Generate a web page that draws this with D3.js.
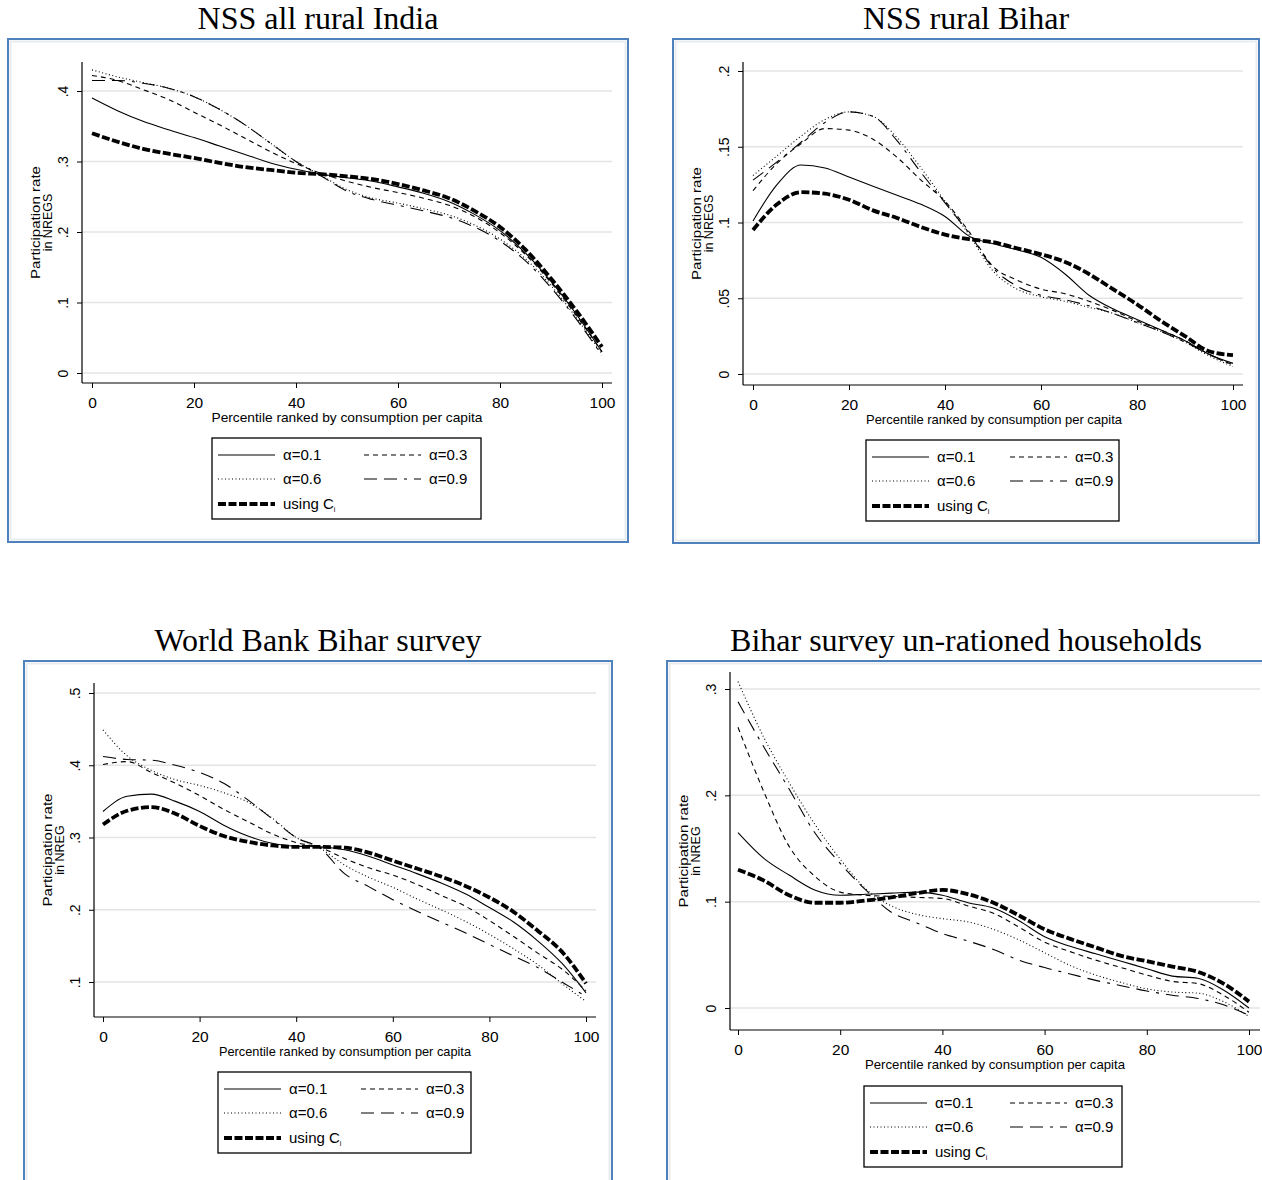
<!DOCTYPE html>
<html>
<head>
<meta charset="utf-8">
<script src="https://cdn.jsdelivr.net/npm/d3@7"></script>
<style>
  body { margin: 0; background: #fff; }
  svg { display: block; }
  text { font-family: "Liberation Sans", Arial, sans-serif; fill: #000; }
  .ttl { font-family: "Liberation Serif", "Times New Roman", serif; }
</style>
</head>
<body>
<svg id="chart" width="1262" height="1180"></svg>
<script>
// percentile grid shared by every panel
const pct = [0, 5, 10, 15, 20, 25, 30, 35, 40, 45, 50, 55, 60, 65, 70, 75, 80, 85, 90, 95, 100];
const xTicks = [0, 20, 40, 60, 80, 100];

// NSS all rural India
const india_a01 = [0.39, 0.372, 0.357, 0.345, 0.334, 0.322, 0.31, 0.298, 0.289, 0.282, 0.277, 0.272, 0.264, 0.255, 0.243, 0.225, 0.202, 0.17, 0.13, 0.083, 0.03];
const india_a03 = [0.422, 0.415, 0.402, 0.388, 0.37, 0.352, 0.333, 0.314, 0.297, 0.283, 0.272, 0.263, 0.256, 0.248, 0.238, 0.222, 0.199, 0.168, 0.128, 0.081, 0.03];
const india_a06 = [0.43, 0.42, 0.412, 0.404, 0.392, 0.374, 0.352, 0.326, 0.3, 0.28, 0.26, 0.248, 0.241, 0.233, 0.224, 0.21, 0.19, 0.162, 0.124, 0.078, 0.027];
const india_a09 = [0.415, 0.415, 0.411, 0.404, 0.392, 0.374, 0.352, 0.326, 0.3, 0.279, 0.258, 0.246, 0.238, 0.23, 0.221, 0.207, 0.187, 0.159, 0.121, 0.076, 0.025];
const india_C   = [0.34, 0.328, 0.318, 0.311, 0.305, 0.298, 0.292, 0.288, 0.284, 0.282, 0.279, 0.275, 0.268, 0.259, 0.248, 0.23, 0.207, 0.175, 0.134, 0.088, 0.037];
const india_yTicks = [0, 0.1, 0.2, 0.3, 0.4];

// NSS rural Bihar
const bihar_a01 = [0.101, 0.125, 0.138, 0.136, 0.13, 0.124, 0.118, 0.112, 0.104, 0.091, 0.086, 0.082, 0.077, 0.066, 0.052, 0.043, 0.036, 0.029, 0.022, 0.013, 0.007];
const bihar_a03 = [0.121, 0.139, 0.152, 0.162, 0.161, 0.155, 0.143, 0.128, 0.114, 0.094, 0.071, 0.062, 0.056, 0.053, 0.048, 0.042, 0.035, 0.029, 0.022, 0.013, 0.006];
const bihar_a06 = [0.131, 0.144, 0.157, 0.168, 0.173, 0.17, 0.156, 0.136, 0.114, 0.092, 0.068, 0.056, 0.051, 0.048, 0.044, 0.04, 0.034, 0.028, 0.021, 0.012, 0.005];
const bihar_a09 = [0.128, 0.14, 0.153, 0.166, 0.173, 0.17, 0.154, 0.133, 0.113, 0.093, 0.07, 0.058, 0.052, 0.049, 0.045, 0.04, 0.034, 0.028, 0.021, 0.013, 0.006];
const bihar_C   = [0.095, 0.112, 0.12, 0.119, 0.115, 0.108, 0.103, 0.097, 0.092, 0.089, 0.087, 0.083, 0.079, 0.074, 0.066, 0.056, 0.046, 0.035, 0.025, 0.015, 0.0125];
const bihar_yTicks = [0, 0.05, 0.1, 0.15, 0.2];

// World Bank Bihar survey
const wb_a01 = [0.336, 0.357, 0.36, 0.35, 0.336, 0.317, 0.302, 0.292, 0.288, 0.287, 0.283, 0.274, 0.262, 0.25, 0.237, 0.222, 0.203, 0.183, 0.157, 0.126, 0.085];
const wb_a03 = [0.401, 0.405, 0.39, 0.375, 0.358, 0.339, 0.322, 0.305, 0.293, 0.286, 0.271, 0.258, 0.248, 0.235, 0.22, 0.205, 0.185, 0.163, 0.14, 0.118, 0.088];
const wb_a06 = [0.449, 0.413, 0.393, 0.38, 0.372, 0.362, 0.349, 0.327, 0.3, 0.285, 0.262, 0.245, 0.231, 0.215, 0.2, 0.184, 0.166, 0.146, 0.124, 0.098, 0.073];
const wb_a09 = [0.412, 0.408, 0.407, 0.4, 0.39, 0.375, 0.352, 0.326, 0.3, 0.285, 0.25, 0.232, 0.214, 0.198, 0.183, 0.168, 0.152, 0.136, 0.12, 0.1, 0.08];
const wb_C   = [0.318, 0.337, 0.342, 0.333, 0.316, 0.302, 0.294, 0.289, 0.287, 0.287, 0.286, 0.279, 0.268, 0.257, 0.246, 0.233, 0.217, 0.197, 0.171, 0.142, 0.098];
const wb_yTicks = [0.1, 0.2, 0.3, 0.4, 0.5];

// Bihar survey un-rationed households
const unr_a01 = [0.165, 0.141, 0.125, 0.111, 0.106, 0.107, 0.108, 0.109, 0.106, 0.099, 0.094, 0.082, 0.067, 0.058, 0.051, 0.044, 0.037, 0.03, 0.028, 0.017, 0.0];
const unr_a03 = [0.264, 0.204, 0.152, 0.124, 0.109, 0.106, 0.105, 0.104, 0.103, 0.096, 0.089, 0.076, 0.062, 0.053, 0.045, 0.038, 0.031, 0.025, 0.023, 0.012, -0.004];
const unr_a06 = [0.307, 0.255, 0.212, 0.173, 0.14, 0.112, 0.096, 0.088, 0.084, 0.081, 0.074, 0.064, 0.052, 0.04, 0.031, 0.024, 0.018, 0.015, 0.014, 0.006, -0.008];
const unr_a09 = [0.288, 0.246, 0.206, 0.165, 0.136, 0.111, 0.09, 0.08, 0.07, 0.063, 0.055, 0.045, 0.038, 0.032, 0.026, 0.021, 0.016, 0.012, 0.009, 0.003, -0.007];
const unr_C   = [0.13, 0.12, 0.106, 0.099, 0.099, 0.101, 0.104, 0.108, 0.111, 0.107, 0.099, 0.087, 0.074, 0.065, 0.057, 0.049, 0.044, 0.039, 0.034, 0.023, 0.006];
const unr_yTicks = [0, 0.1, 0.2, 0.3];

const seriesKeys = ["a01", "a03", "a06", "a09", "C"];
const lineStyle = {
  a01: { w: 1.1, dash: null },
  a03: { w: 1.1, dash: "5,4" },
  a06: { w: 1.1, dash: "1,2.5" },
  a09: { w: 1.1, dash: "13,7,13,7,3,7" },
  C:   { w: 3.8, dash: "8,2.5" }
};

const panels = [
  { title: "NSS all rural India", titleX: 318, titleY: 29,
    frame: [8, 39, 620, 503], series: [india_a01, india_a03, india_a06, india_a09, india_C],
    yTicks: india_yTicks, yDomain: [0, 0.4], yRange: [373, 91], xRange: [92, 602],
    axisX: 82, axisY: 383, axisTop: 62, gridEnd: 612, yLab: "in NREGS",
    xTitle: { cx: 347, len: 271 },
    legend: { x: 212, y: 438, w: 269, col2: 152 } },
  { title: "NSS rural Bihar", titleX: 966, titleY: 29,
    frame: [673, 39, 586, 504], series: [bihar_a01, bihar_a03, bihar_a06, bihar_a09, bihar_C],
    yTicks: bihar_yTicks, yDomain: [0, 0.2], yRange: [374, 71], xRange: [753, 1233],
    axisX: 743, axisY: 385, axisTop: 62, gridEnd: 1243, yLab: "in NREGS",
    xTitle: { cx: 994, len: 256 },
    legend: { x: 866, y: 440, w: 253, col2: 144 } },
  { title: "World Bank Bihar survey", titleX: 318, titleY: 651,
    frame: [24, 661, 588, 540], series: [wb_a01, wb_a03, wb_a06, wb_a09, wb_C],
    yTicks: wb_yTicks, yDomain: [0.1, 0.5], yRange: [982, 693], xRange: [103, 586],
    axisX: 94, axisY: 1017, axisTop: 683, gridEnd: 596, yLab: "in NREG",
    xTitle: { cx: 345, len: 252 },
    legend: { x: 218, y: 1072, w: 253, col2: 143 } },
  { title: "Bihar survey un-rationed households", titleX: 966, titleY: 651,
    frame: [667, 661, 640, 540], series: [unr_a01, unr_a03, unr_a06, unr_a09, unr_C],
    yTicks: unr_yTicks, yDomain: [0, 0.3], yRange: [1008, 689], xRange: [738, 1249],
    axisX: 730, axisY: 1030, axisTop: 672, gridEnd: 1260, yLab: "in NREG",
    xTitle: { cx: 995, len: 260 },
    legend: { x: 864, y: 1086, w: 258, col2: 146 } }
];

const svg = d3.select("#chart");
const fmtY = d => d === 0 ? "0" : String(d).replace(/^0/, "");

function applyStyle(sel, key) {
  const s = lineStyle[key];
  sel.attr("fill", "none").attr("stroke", "#000").attr("stroke-width", s.w);
  if (s.dash) sel.attr("stroke-dasharray", s.dash);
}

function drawPanel(p) {
  const g = svg.append("g");
  const [fx, fy, fw, fh] = p.frame;

  // picture frame (blue border with faint inner shade)
  g.append("rect").attr("x", fx + 2.5).attr("y", fy + 2.5).attr("width", fw - 5).attr("height", fh - 5)
    .attr("fill", "none").attr("stroke", "#e9ecef").attr("stroke-width", 2);
  g.append("rect").attr("x", fx).attr("y", fy).attr("width", fw).attr("height", fh)
    .attr("fill", "none").attr("stroke", "#4f81bd").attr("stroke-width", 2);

  g.append("text").attr("class", "ttl").attr("x", p.titleX).attr("y", p.titleY)
    .attr("text-anchor", "middle").style("font-size", "32px").text(p.title);

  const x = d3.scaleLinear().domain([0, 100]).range(p.xRange);
  const y = d3.scaleLinear().domain(p.yDomain).range(p.yRange);

  // gridlines
  g.selectAll(".grid").data(p.yTicks).join("line")
    .attr("x1", p.axisX).attr("x2", p.gridEnd)
    .attr("y1", d => y(d)).attr("y2", d => y(d))
    .attr("stroke", "#e4e4e4").attr("stroke-width", 1.5);

  // y axis
  const ya = g.append("g").attr("transform", `translate(${p.axisX},0)`)
    .call(d3.axisLeft(y).tickValues(p.yTicks).tickFormat(fmtY).tickSize(5).tickSizeOuter(0));
  ya.select(".domain").remove();
  ya.selectAll("text").attr("transform", "rotate(-90)").attr("x", 0).attr("y", -14)
    .attr("dy", 0).attr("text-anchor", "middle").style("font-size", "14px");
  g.append("line").attr("x1", p.axisX).attr("x2", p.axisX).attr("y1", p.axisTop).attr("y2", p.axisY)
    .attr("stroke", "#000").attr("stroke-width", 1.2);

  // x axis
  const xa = g.append("g").attr("transform", `translate(0,${p.axisY})`)
    .call(d3.axisBottom(x).tickValues(xTicks).tickSize(5).tickSizeOuter(0));
  xa.select(".domain").remove();
  xa.selectAll("text").attr("y", 14).style("font-size", "15.5px");
  g.append("line").attr("x1", p.axisX).attr("x2", p.gridEnd).attr("y1", p.axisY).attr("y2", p.axisY)
    .attr("stroke", "#000").attr("stroke-width", 1.2);

  g.append("text").attr("x", p.xTitle.cx).attr("y", p.axisY + 39)
    .attr("text-anchor", "middle").style("font-size", "13px")
    .attr("textLength", p.xTitle.len).attr("lengthAdjust", "spacingAndGlyphs")
    .text("Percentile ranked by consumption per capita");

  const ylab = g.append("text")
    .attr("transform", `translate(${p.axisX - 42},${(p.axisTop + p.axisY) / 2}) rotate(-90)`)
    .attr("text-anchor", "middle").style("font-size", "12.5px");
  ylab.append("tspan").attr("x", 0).attr("y", 0)
    .attr("textLength", 113).attr("lengthAdjust", "spacingAndGlyphs").text("Participation rate");
  ylab.append("tspan").attr("x", 0).attr("y", 12).text(p.yLab);

  // curves
  const line = d3.line().x((d, i) => x(pct[i])).y(d => y(d)).curve(d3.curveMonotoneX);
  seriesKeys.forEach((k, i) => {
    g.append("path").datum(p.series[i]).attr("d", line).call(applyStyle, k);
  });

  // legend
  const L = p.legend;
  const lg = g.append("g").attr("transform", `translate(${L.x},${L.y})`);
  lg.append("rect").attr("width", L.w).attr("height", 81).attr("fill", "#fff")
    .attr("stroke", "#000").attr("stroke-width", 1.3);
  const items = [
    { k: "a01", col: 0, row: 0, label: "α=0.1" },
    { k: "a03", col: 1, row: 0, label: "α=0.3" },
    { k: "a06", col: 0, row: 1, label: "α=0.6" },
    { k: "a09", col: 1, row: 1, label: "α=0.9" },
    { k: "C",   col: 0, row: 2, label: "using C" }
  ];
  const rowY = [17, 41, 66];
  items.forEach(it => {
    const x0 = it.col === 0 ? 6 : L.col2;
    const yy = rowY[it.row];
    lg.append("line").attr("x1", x0).attr("x2", x0 + 57).attr("y1", yy).attr("y2", yy).call(applyStyle, it.k);
    const t = lg.append("text").attr("x", x0 + 65).attr("y", yy).attr("dy", "0.36em")
      .style("font-size", "15px").text(it.label);
    if (it.k === "C") t.append("tspan").attr("dy", "3").style("font-size", "7px").text("i");
  });
}

panels.forEach(drawPanel);
</script>
</body>
</html>
